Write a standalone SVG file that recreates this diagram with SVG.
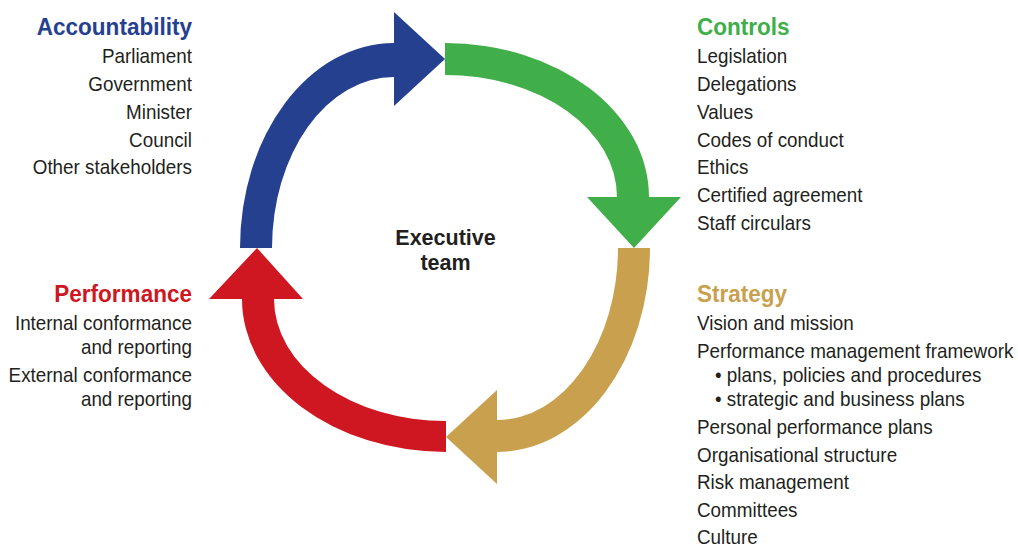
<svg xmlns="http://www.w3.org/2000/svg" width="1018" height="547" viewBox="0 0 1018 547">
<style>
text{font-family:"Liberation Sans",Arial,sans-serif;fill:#231f20;}
.b{font-size:20.5px;}
.h{font-size:24.5px;font-weight:bold;}
.r{text-anchor:end;}
.c{text-anchor:middle;font-weight:bold;font-size:21.5px;}
</style>
<rect width="1018" height="547" fill="#ffffff"/>
<g id="connectors">
<path id="arrow-accountability" fill="#25408f" d="M240,248 A154,205 0 0 1 394,43 L394,12 L445,59 L394,106 L394,77 A122,171 0 0 0 272,248 Z"/>
<path id="arrow-controls" fill="#40ae49" d="M445,43 A204,154 0 0 1 649,197 L681,197 L634,248 L587,197 L617,197 A172,122 0 0 0 445,75 Z"/>
<path id="arrow-strategy" fill="#c9a04e" d="M650,248 A153,204 0 0 1 497,452 L497,484 L446,437 L497,390 L497,420 A121,172 0 0 0 618,248 Z"/>
<path id="arrow-performance" fill="#ce1720" d="M446,452 A204,153 0 0 1 242,299 L209,299 L257,248 L303,299 L274,299 A172,122 0 0 0 446,421 Z"/>
</g>
<g id="node-executive">
<text class="c" x="445.5" y="245">Executive</text>
<text class="c" x="445.5" y="269.5">team</text>
</g>
<g id="node-accountability" transform="scale(0.92 1)">
<text class="h r" x="208.7" y="35" style="fill:#25408f">Accountability</text>
<text class="b r" x="208.7" y="63">Parliament</text>
<text class="b r" x="208.7" y="91">Government</text>
<text class="b r" x="208.7" y="119">Minister</text>
<text class="b r" x="208.7" y="147">Council</text>
<text class="b r" x="208.7" y="174.5">Other stakeholders</text>
</g>
<g id="node-controls" transform="scale(0.92 1)">
<text class="h" x="757.6" y="35" style="fill:#40ae49">Controls</text>
<text class="b" x="757.6" y="63">Legislation</text>
<text class="b" x="757.6" y="91">Delegations</text>
<text class="b" x="757.6" y="119">Values</text>
<text class="b" x="757.6" y="147">Codes of conduct</text>
<text class="b" x="757.6" y="174">Ethics</text>
<text class="b" x="757.6" y="202">Certified agreement</text>
<text class="b" x="757.6" y="230">Staff circulars</text>
</g>
<g id="node-strategy" transform="scale(0.92 1)">
<text class="h" x="757.6" y="302" style="fill:#c9a04e">Strategy</text>
<text class="b" x="757.6" y="330">Vision and mission</text>
<text class="b" x="757.6" y="358">Performance management framework</text>
<text class="b" x="777.2" y="382">• plans, policies and procedures</text>
<text class="b" x="777.2" y="406">• strategic and business plans</text>
<text class="b" x="757.6" y="434">Personal performance plans</text>
<text class="b" x="757.6" y="462">Organisational structure</text>
<text class="b" x="757.6" y="489">Risk management</text>
<text class="b" x="757.6" y="517">Committees</text>
<text class="b" x="757.6" y="544">Culture</text>
</g>
<g id="node-performance" transform="scale(0.92 1)">
<text class="h r" x="208.7" y="302" style="fill:#ce1720">Performance</text>
<text class="b r" x="208.7" y="330">Internal conformance</text>
<text class="b r" x="208.7" y="354">and reporting</text>
<text class="b r" x="208.7" y="382">External conformance</text>
<text class="b r" x="208.7" y="406">and reporting</text>
</g>
</svg>
